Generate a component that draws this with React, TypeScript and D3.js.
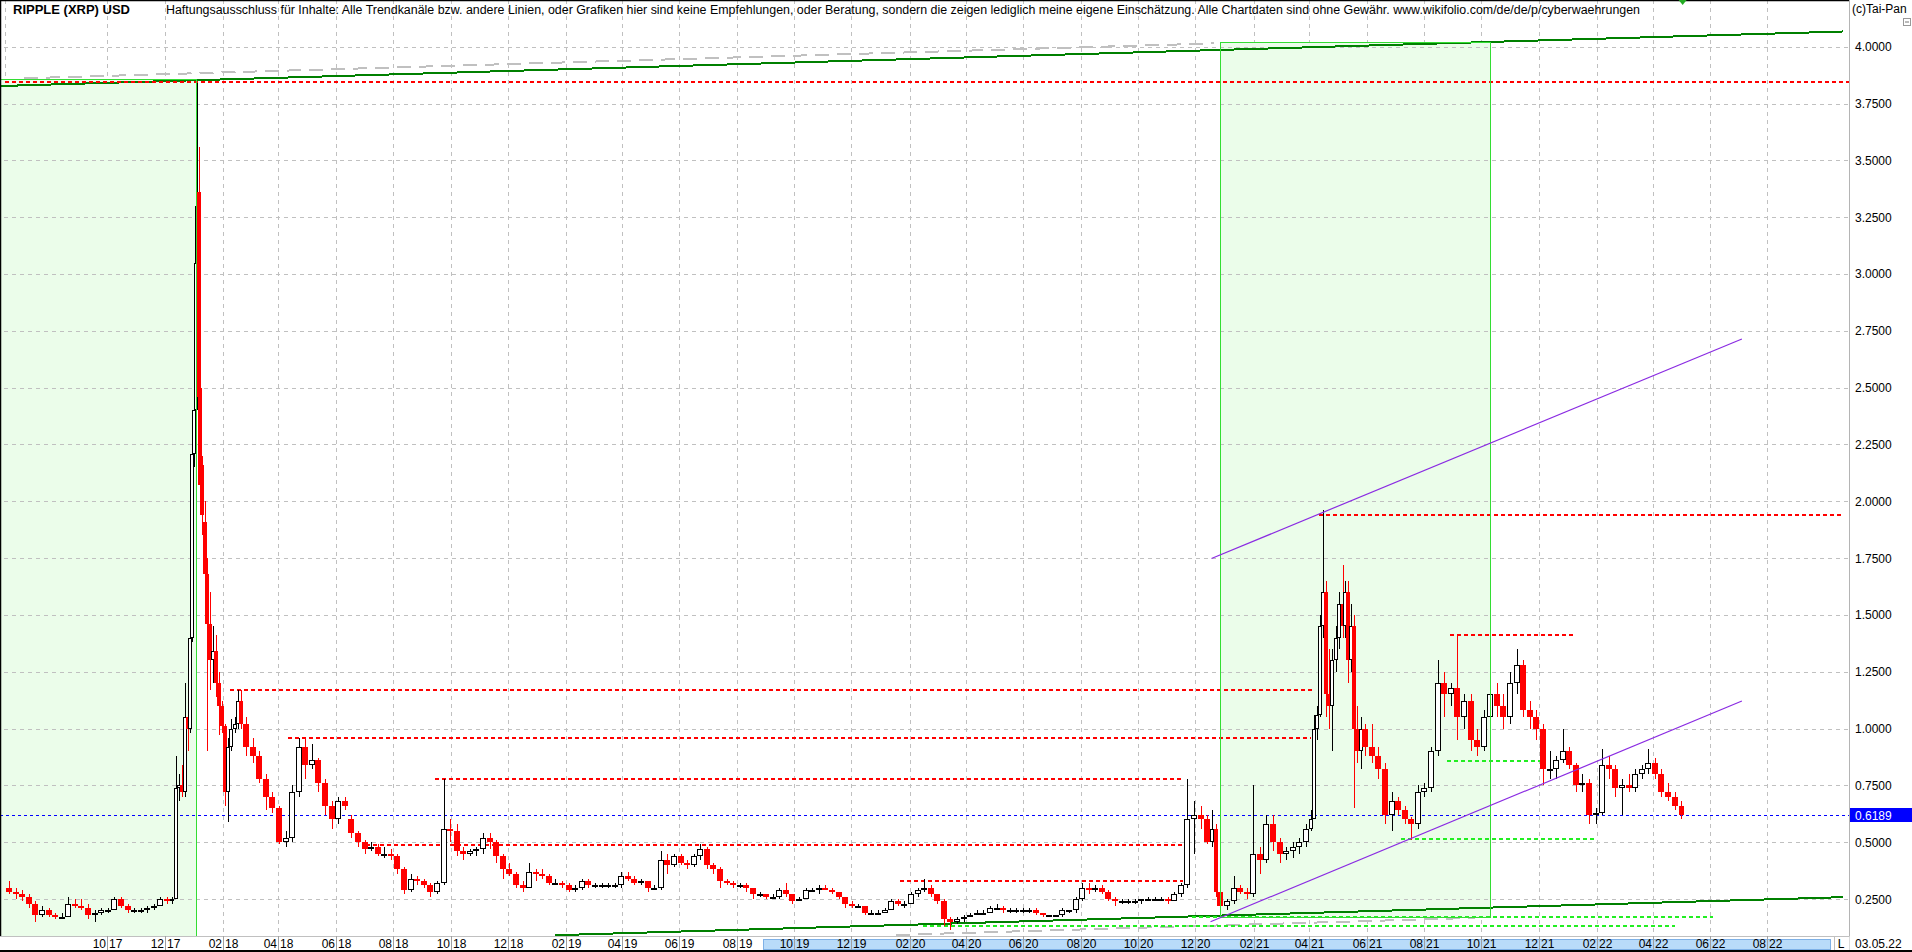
import React from "react";
import * as d3 from "d3";

const W = 1912;
const H = 952;
const AXIS_X = 1849.5;
const PLOT_BOTTOM = 936;
const FONT = "'Liberation Sans', Arial, sans-serif";

const titleText = "RIPPLE (XRP) USD";
const disclaimerText =
  "Haftungsausschluss für Inhalte: Alle Trendkanäle bzw. andere Linien, oder Grafiken hier sind keine Empfehlungen, oder Beratung, sondern die zeigen lediglich meine eigene Einschätzung. Alle Chartdaten sind ohne Gewähr.  www.wikifolio.com/de/de/p/cyberwaehrungen";
const copyrightText = "(c)Tai-Pan";
const lastDateLabel = "03.05.22";
const lastPrice = 0.6189;

const yTickValues = [4.0, 3.75, 3.5, 3.25, 3.0, 2.75, 2.5, 2.25, 2.0, 1.75, 1.5, 1.25, 1.0, 0.75, 0.5, 0.25];

const monthTicks = [
  "10.17", "12.17", "02.18", "04.18", "06.18", "08.18", "10.18", "12.18",
  "02.19", "04.19", "06.19", "08.19", "10.19", "12.19", "02.20", "04.20",
  "06.20", "08.20", "10.20", "12.20", "02.21", "04.21", "06.21", "08.21",
  "10.21", "12.21", "02.22", "04.22", "06.22", "08.22",
];

// [start date, open, high, low, close]
const candles: [string, number, number, number, number][] = [
  ["2017-06-15", 0.30, 0.33, 0.27, 0.28],
  ["2017-06-22", 0.28, 0.30, 0.25, 0.27],
  ["2017-06-29", 0.27, 0.29, 0.24, 0.26],
  ["2017-07-06", 0.26, 0.27, 0.21, 0.23],
  ["2017-07-13", 0.23, 0.24, 0.15, 0.18],
  ["2017-07-20", 0.18, 0.22, 0.17, 0.20],
  ["2017-07-27", 0.20, 0.21, 0.17, 0.18],
  ["2017-08-03", 0.18, 0.19, 0.16, 0.17],
  ["2017-08-10", 0.17, 0.19, 0.16, 0.17],
  ["2017-08-17", 0.17, 0.26, 0.17, 0.23],
  ["2017-08-24", 0.23, 0.25, 0.21, 0.22],
  ["2017-08-31", 0.22, 0.25, 0.20, 0.21],
  ["2017-09-07", 0.21, 0.23, 0.16, 0.18],
  ["2017-09-14", 0.18, 0.20, 0.15, 0.19],
  ["2017-09-21", 0.19, 0.21, 0.18, 0.20],
  ["2017-09-28", 0.20, 0.21, 0.19, 0.20],
  ["2017-10-05", 0.20, 0.26, 0.20, 0.25],
  ["2017-10-12", 0.25, 0.26, 0.21, 0.22],
  ["2017-10-19", 0.22, 0.23, 0.19, 0.20],
  ["2017-10-26", 0.20, 0.21, 0.19, 0.20],
  ["2017-11-02", 0.20, 0.21, 0.19, 0.20],
  ["2017-11-09", 0.20, 0.22, 0.19, 0.21],
  ["2017-11-16", 0.21, 0.23, 0.20, 0.22],
  ["2017-11-23", 0.22, 0.26, 0.22, 0.25],
  ["2017-11-30", 0.25, 0.26, 0.23, 0.24],
  ["2017-12-07", 0.24, 0.26, 0.23, 0.25],
  ["2017-12-11", 0.25, 0.88, 0.25, 0.74],
  ["2017-12-15", 0.74, 0.80, 0.68, 0.75],
  ["2017-12-18", 0.75, 0.84, 0.70, 0.72],
  ["2017-12-21", 0.72, 1.20, 0.70, 1.05],
  ["2017-12-24", 1.05, 1.12, 0.90, 1.00],
  ["2017-12-27", 1.00, 1.50, 0.98, 1.40],
  ["2017-12-29", 1.40, 2.30, 1.38, 2.21],
  ["2017-12-31", 2.21, 2.50, 2.15, 2.40],
  ["2018-01-02", 2.40, 3.11, 2.35, 3.05],
  ["2018-01-04", 3.05, 3.84, 2.95, 3.30],
  ["2018-01-05", 3.36, 3.56, 2.40, 2.46],
  ["2018-01-07", 2.50, 2.85, 2.00, 2.07],
  ["2018-01-09", 2.16, 2.20, 1.85, 1.94],
  ["2018-01-11", 1.91, 2.00, 1.60, 1.68],
  ["2018-01-14", 1.68, 1.75, 0.90, 1.46],
  ["2018-01-17", 1.46, 1.60, 1.17, 1.30],
  ["2018-01-20", 1.30, 1.45, 1.20, 1.34],
  ["2018-01-23", 1.34, 1.41, 1.14, 1.20],
  ["2018-01-26", 1.20, 1.25, 0.97, 1.10],
  ["2018-01-29", 1.10, 1.12, 0.98, 1.01],
  ["2018-02-01", 1.01, 1.02, 0.66, 0.72],
  ["2018-02-05", 0.72, 0.96, 0.59, 0.92],
  ["2018-02-08", 0.92, 1.04, 0.90, 1.00],
  ["2018-02-12", 1.00, 1.05, 0.98, 1.02],
  ["2018-02-15", 1.02, 1.17, 1.00, 1.12],
  ["2018-02-19", 1.12, 1.17, 1.00, 1.02],
  ["2018-02-22", 1.02, 1.05, 0.88, 0.92],
  ["2018-03-01", 0.92, 0.96, 0.85, 0.88],
  ["2018-03-08", 0.88, 0.90, 0.76, 0.78],
  ["2018-03-15", 0.78, 0.80, 0.64, 0.70],
  ["2018-03-22", 0.70, 0.72, 0.63, 0.65],
  ["2018-03-29", 0.65, 0.66, 0.49, 0.50],
  ["2018-04-05", 0.50, 0.55, 0.48, 0.52],
  ["2018-04-12", 0.52, 0.75, 0.50, 0.72],
  ["2018-04-19", 0.72, 0.96, 0.70, 0.92],
  ["2018-04-26", 0.92, 0.96, 0.78, 0.84],
  ["2018-05-03", 0.84, 0.93, 0.82, 0.86],
  ["2018-05-10", 0.86, 0.87, 0.72, 0.76],
  ["2018-05-17", 0.76, 0.78, 0.62, 0.66],
  ["2018-05-24", 0.66, 0.68, 0.56, 0.60],
  ["2018-05-31", 0.60, 0.70, 0.58, 0.68],
  ["2018-06-07", 0.68, 0.70, 0.64, 0.66],
  ["2018-06-14", 0.60, 0.62, 0.52, 0.54],
  ["2018-06-21", 0.54, 0.55, 0.48, 0.50],
  ["2018-06-28", 0.50, 0.51, 0.45, 0.47],
  ["2018-07-05", 0.47, 0.50, 0.46, 0.48],
  ["2018-07-12", 0.48, 0.49, 0.44, 0.45],
  ["2018-07-19", 0.45, 0.48, 0.43, 0.45],
  ["2018-07-26", 0.45, 0.47, 0.42, 0.44],
  ["2018-08-02", 0.44, 0.45, 0.36, 0.38],
  ["2018-08-09", 0.38, 0.39, 0.27, 0.29],
  ["2018-08-16", 0.29, 0.36, 0.28, 0.34],
  ["2018-08-23", 0.34, 0.35, 0.31, 0.33],
  ["2018-08-30", 0.33, 0.34, 0.30, 0.31],
  ["2018-09-06", 0.31, 0.32, 0.26, 0.28],
  ["2018-09-13", 0.28, 0.33, 0.27, 0.32],
  ["2018-09-20", 0.32, 0.78, 0.31, 0.56],
  ["2018-09-27", 0.56, 0.60, 0.50, 0.55],
  ["2018-10-04", 0.55, 0.58, 0.44, 0.46],
  ["2018-10-11", 0.46, 0.48, 0.42, 0.45],
  ["2018-10-18", 0.45, 0.47, 0.44, 0.46],
  ["2018-10-25", 0.46, 0.48, 0.44, 0.47],
  ["2018-11-01", 0.47, 0.54, 0.45, 0.52],
  ["2018-11-08", 0.52, 0.54, 0.47, 0.50],
  ["2018-11-15", 0.50, 0.51, 0.41, 0.44],
  ["2018-11-22", 0.44, 0.45, 0.34, 0.38],
  ["2018-11-29", 0.38, 0.41, 0.35, 0.36],
  ["2018-12-06", 0.36, 0.37, 0.30, 0.31],
  ["2018-12-13", 0.31, 0.33, 0.28, 0.30],
  ["2018-12-20", 0.30, 0.41, 0.30, 0.37],
  ["2018-12-27", 0.37, 0.38, 0.33, 0.36],
  ["2019-01-03", 0.36, 0.38, 0.34, 0.35],
  ["2019-01-10", 0.35, 0.36, 0.31, 0.32],
  ["2019-01-17", 0.32, 0.34, 0.31, 0.32],
  ["2019-01-24", 0.32, 0.33, 0.30, 0.31],
  ["2019-01-31", 0.31, 0.32, 0.28, 0.29],
  ["2019-02-07", 0.29, 0.31, 0.28, 0.30],
  ["2019-02-14", 0.30, 0.34, 0.29, 0.33],
  ["2019-02-21", 0.33, 0.34, 0.30, 0.31],
  ["2019-02-28", 0.31, 0.32, 0.30, 0.31],
  ["2019-03-07", 0.31, 0.32, 0.30, 0.31],
  ["2019-03-14", 0.31, 0.32, 0.30, 0.31],
  ["2019-03-21", 0.31, 0.32, 0.30, 0.31],
  ["2019-03-28", 0.31, 0.37, 0.30, 0.35],
  ["2019-04-04", 0.35, 0.37, 0.33, 0.34],
  ["2019-04-11", 0.34, 0.35, 0.31, 0.32],
  ["2019-04-18", 0.32, 0.34, 0.31, 0.33],
  ["2019-04-25", 0.33, 0.33, 0.28, 0.30],
  ["2019-05-02", 0.30, 0.31, 0.29, 0.30],
  ["2019-05-09", 0.30, 0.46, 0.29, 0.42],
  ["2019-05-16", 0.42, 0.45, 0.36, 0.40],
  ["2019-05-23", 0.40, 0.45, 0.39, 0.44],
  ["2019-05-30", 0.44, 0.45, 0.40, 0.41],
  ["2019-06-06", 0.41, 0.42, 0.38, 0.40],
  ["2019-06-13", 0.40, 0.45, 0.39, 0.44],
  ["2019-06-20", 0.44, 0.49, 0.42, 0.47],
  ["2019-06-27", 0.47, 0.48, 0.38, 0.40],
  ["2019-07-04", 0.40, 0.41, 0.36, 0.38],
  ["2019-07-11", 0.38, 0.39, 0.30, 0.33],
  ["2019-07-18", 0.33, 0.34, 0.31, 0.32],
  ["2019-07-25", 0.32, 0.33, 0.30, 0.31],
  ["2019-08-01", 0.31, 0.32, 0.30, 0.31],
  ["2019-08-08", 0.31, 0.32, 0.28, 0.30],
  ["2019-08-15", 0.30, 0.30, 0.25, 0.27],
  ["2019-08-22", 0.27, 0.28, 0.26, 0.27],
  ["2019-08-29", 0.27, 0.27, 0.25, 0.26],
  ["2019-09-05", 0.26, 0.27, 0.25, 0.26],
  ["2019-09-12", 0.26, 0.30, 0.25, 0.29],
  ["2019-09-19", 0.29, 0.32, 0.26, 0.27],
  ["2019-09-26", 0.27, 0.27, 0.23, 0.24],
  ["2019-10-03", 0.24, 0.26, 0.24, 0.25],
  ["2019-10-10", 0.25, 0.30, 0.25, 0.29],
  ["2019-10-17", 0.29, 0.30, 0.28, 0.29],
  ["2019-10-24", 0.29, 0.31, 0.27, 0.30],
  ["2019-10-31", 0.30, 0.31, 0.29, 0.29],
  ["2019-11-07", 0.29, 0.30, 0.27, 0.28],
  ["2019-11-14", 0.28, 0.28, 0.25, 0.26],
  ["2019-11-21", 0.26, 0.26, 0.21, 0.23],
  ["2019-11-28", 0.23, 0.24, 0.21, 0.22],
  ["2019-12-05", 0.22, 0.23, 0.21, 0.22],
  ["2019-12-12", 0.22, 0.22, 0.18, 0.19],
  ["2019-12-19", 0.19, 0.20, 0.18, 0.19],
  ["2019-12-26", 0.19, 0.20, 0.19, 0.19],
  ["2020-01-02", 0.19, 0.21, 0.19, 0.20],
  ["2020-01-09", 0.20, 0.25, 0.20, 0.24],
  ["2020-01-16", 0.24, 0.25, 0.22, 0.23],
  ["2020-01-23", 0.23, 0.24, 0.21, 0.23],
  ["2020-01-30", 0.23, 0.28, 0.23, 0.27],
  ["2020-02-06", 0.27, 0.30, 0.26, 0.29],
  ["2020-02-13", 0.29, 0.34, 0.28, 0.30],
  ["2020-02-20", 0.30, 0.31, 0.26, 0.27],
  ["2020-02-27", 0.27, 0.27, 0.23, 0.24],
  ["2020-03-05", 0.24, 0.25, 0.13, 0.16],
  ["2020-03-12", 0.16, 0.17, 0.115, 0.15],
  ["2020-03-19", 0.15, 0.17, 0.14, 0.16],
  ["2020-03-26", 0.16, 0.18, 0.15, 0.17],
  ["2020-04-02", 0.17, 0.19, 0.17, 0.18],
  ["2020-04-09", 0.18, 0.20, 0.18, 0.19],
  ["2020-04-16", 0.19, 0.20, 0.18, 0.19],
  ["2020-04-23", 0.19, 0.22, 0.19, 0.21],
  ["2020-04-30", 0.21, 0.23, 0.20, 0.21],
  ["2020-05-07", 0.21, 0.22, 0.19, 0.20],
  ["2020-05-14", 0.20, 0.21, 0.19, 0.20],
  ["2020-05-21", 0.20, 0.21, 0.19, 0.20],
  ["2020-05-28", 0.20, 0.21, 0.19, 0.20],
  ["2020-06-04", 0.20, 0.21, 0.19, 0.20],
  ["2020-06-11", 0.20, 0.21, 0.18, 0.19],
  ["2020-06-18", 0.19, 0.19, 0.17, 0.18],
  ["2020-06-25", 0.18, 0.18, 0.17, 0.18],
  ["2020-07-02", 0.18, 0.18, 0.17, 0.18],
  ["2020-07-09", 0.18, 0.21, 0.17, 0.20],
  ["2020-07-16", 0.20, 0.20, 0.19, 0.20],
  ["2020-07-23", 0.20, 0.26, 0.19, 0.25],
  ["2020-07-30", 0.25, 0.32, 0.24, 0.30],
  ["2020-08-06", 0.30, 0.32, 0.27, 0.29],
  ["2020-08-13", 0.29, 0.31, 0.28, 0.30],
  ["2020-08-20", 0.30, 0.31, 0.27, 0.28],
  ["2020-08-27", 0.28, 0.29, 0.24, 0.25],
  ["2020-09-03", 0.25, 0.26, 0.22, 0.24],
  ["2020-09-10", 0.24, 0.25, 0.23, 0.24],
  ["2020-09-17", 0.24, 0.25, 0.23, 0.24],
  ["2020-09-24", 0.24, 0.25, 0.23, 0.24],
  ["2020-10-01", 0.24, 0.25, 0.23, 0.25],
  ["2020-10-08", 0.25, 0.26, 0.24, 0.25],
  ["2020-10-15", 0.25, 0.26, 0.24, 0.25],
  ["2020-10-22", 0.25, 0.26, 0.24, 0.25],
  ["2020-10-29", 0.25, 0.26, 0.23, 0.24],
  ["2020-11-05", 0.24, 0.28, 0.24, 0.27],
  ["2020-11-12", 0.27, 0.32, 0.26, 0.31],
  ["2020-11-19", 0.31, 0.78, 0.30, 0.60],
  ["2020-11-26", 0.60, 0.68, 0.45, 0.62],
  ["2020-12-03", 0.62, 0.66, 0.56, 0.60],
  ["2020-12-10", 0.60, 0.62, 0.49, 0.50],
  ["2020-12-17", 0.50, 0.64, 0.48, 0.56],
  ["2020-12-21", 0.56, 0.58, 0.26, 0.28],
  ["2020-12-24", 0.28, 0.30, 0.17, 0.22],
  ["2020-12-31", 0.22, 0.25, 0.20, 0.24],
  ["2021-01-07", 0.24, 0.35, 0.23, 0.30],
  ["2021-01-14", 0.30, 0.31, 0.27, 0.28],
  ["2021-01-21", 0.28, 0.30, 0.25, 0.27],
  ["2021-01-28", 0.27, 0.75, 0.26, 0.45],
  ["2021-02-04", 0.45, 0.48, 0.36, 0.42],
  ["2021-02-11", 0.42, 0.62, 0.41, 0.58],
  ["2021-02-18", 0.58, 0.62, 0.46, 0.50],
  ["2021-02-25", 0.50, 0.52, 0.41, 0.45],
  ["2021-03-04", 0.45, 0.48, 0.42, 0.46],
  ["2021-03-11", 0.46, 0.50, 0.43, 0.48],
  ["2021-03-18", 0.48, 0.52, 0.45, 0.50],
  ["2021-03-25", 0.50, 0.58, 0.48, 0.56],
  ["2021-04-01", 0.56, 0.64, 0.55, 0.60],
  ["2021-04-05", 0.60, 1.06, 0.60, 1.00],
  ["2021-04-08", 1.00, 1.10, 0.95, 1.06],
  ["2021-04-11", 1.06, 1.50, 1.05, 1.45],
  ["2021-04-14", 1.45, 1.96, 1.40, 1.60],
  ["2021-04-17", 1.60, 1.65, 1.05, 1.15],
  ["2021-04-21", 1.15, 1.35, 1.00, 1.10],
  ["2021-04-24", 1.10, 1.35, 0.90, 1.30],
  ["2021-04-27", 1.30, 1.45, 1.25, 1.40],
  ["2021-05-01", 1.40, 1.60, 1.35, 1.55],
  ["2021-05-05", 1.55, 1.72, 1.40, 1.45],
  ["2021-05-08", 1.45, 1.65, 1.40, 1.60],
  ["2021-05-11", 1.60, 1.65, 1.20, 1.30],
  ["2021-05-14", 1.30, 1.55, 1.25, 1.45],
  ["2021-05-17", 1.45, 1.50, 0.65, 1.00],
  ["2021-05-20", 1.00, 1.10, 0.85, 0.90],
  ["2021-05-24", 0.90, 1.05, 0.82, 1.00],
  ["2021-05-27", 1.00, 1.02, 0.88, 0.92],
  ["2021-06-03", 0.92, 1.02, 0.85, 0.88],
  ["2021-06-10", 0.88, 0.92, 0.78, 0.82],
  ["2021-06-17", 0.82, 0.85, 0.58, 0.62],
  ["2021-06-24", 0.62, 0.72, 0.55, 0.68],
  ["2021-07-01", 0.68, 0.70, 0.62, 0.64],
  ["2021-07-08", 0.64, 0.66, 0.58, 0.60],
  ["2021-07-15", 0.60, 0.61, 0.51, 0.58],
  ["2021-07-22", 0.58, 0.75, 0.56, 0.72],
  ["2021-07-29", 0.72, 0.76, 0.70, 0.74],
  ["2021-08-05", 0.74, 0.92, 0.72, 0.90],
  ["2021-08-12", 0.90, 1.30, 0.88, 1.20],
  ["2021-08-19", 1.20, 1.25, 1.05, 1.15],
  ["2021-08-26", 1.15, 1.20, 1.10, 1.18],
  ["2021-09-02", 1.18, 1.41, 0.95, 1.05],
  ["2021-09-09", 1.05, 1.15, 1.00, 1.12],
  ["2021-09-16", 1.12, 1.15, 0.90, 0.95],
  ["2021-09-23", 0.95, 1.00, 0.88, 0.92],
  ["2021-09-30", 0.92, 1.08, 0.90, 1.05],
  ["2021-10-07", 1.05, 1.20, 1.02, 1.15],
  ["2021-10-14", 1.15, 1.20, 1.05, 1.10],
  ["2021-10-21", 1.10, 1.15, 1.00, 1.05],
  ["2021-10-28", 1.05, 1.25, 1.02, 1.20],
  ["2021-11-04", 1.20, 1.35, 1.15, 1.28],
  ["2021-11-11", 1.28, 1.30, 1.05, 1.08],
  ["2021-11-18", 1.08, 1.12, 1.00, 1.05],
  ["2021-11-25", 1.05, 1.08, 0.95, 1.00],
  ["2021-12-02", 1.00, 1.02, 0.75, 0.82],
  ["2021-12-09", 0.82, 0.90, 0.78, 0.82],
  ["2021-12-16", 0.82, 0.88, 0.78, 0.86],
  ["2021-12-23", 0.86, 1.00, 0.85, 0.90],
  ["2021-12-30", 0.90, 0.92, 0.82, 0.84],
  ["2022-01-06", 0.84, 0.85, 0.72, 0.75],
  ["2022-01-13", 0.75, 0.80, 0.72, 0.76],
  ["2022-01-20", 0.76, 0.78, 0.58, 0.62],
  ["2022-01-27", 0.62, 0.65, 0.58, 0.63],
  ["2022-02-03", 0.63, 0.91, 0.62, 0.84],
  ["2022-02-10", 0.84, 0.88, 0.78, 0.82],
  ["2022-02-17", 0.82, 0.84, 0.70, 0.74],
  ["2022-02-24", 0.74, 0.78, 0.62, 0.75],
  ["2022-03-03", 0.75, 0.80, 0.72, 0.74],
  ["2022-03-10", 0.74, 0.82, 0.72, 0.80],
  ["2022-03-17", 0.80, 0.84, 0.78, 0.82],
  ["2022-03-24", 0.82, 0.91, 0.80, 0.85],
  ["2022-03-31", 0.85, 0.87, 0.78, 0.80],
  ["2022-04-07", 0.80, 0.82, 0.70, 0.72],
  ["2022-04-14", 0.72, 0.76, 0.68, 0.70],
  ["2022-04-21", 0.70, 0.72, 0.64, 0.66],
  ["2022-04-28", 0.66, 0.68, 0.60, 0.6189],
];
const lastCandleEnd = "2022-05-04";

// horizontal levels: [value, from date, to date]
const redLevels: [number, string, string][] = [
  [3.843, "2017-06-14", "2022-10-28"],
  [1.168, "2018-02-08", "2021-04-06"],
  [0.96, "2018-04-11", "2021-04-03"],
  [0.778, "2018-09-14", "2020-11-18"],
  [0.487, "2018-07-03", "2020-11-24"],
  [0.33, "2020-01-22", "2020-11-18"],
  [1.94, "2021-04-11", "2022-10-21"],
  [1.41, "2021-08-29", "2022-01-09"],
];
const greenLevels: [number, string, string][] = [
  [0.858, "2021-08-25", "2021-12-02"],
  [0.514, "2021-07-08", "2022-02-01"],
  [0.173, "2020-11-27", "2022-06-04"],
  [0.132, "2020-02-15", "2022-04-25"],
];

// trend lines: [date, value] pairs
const upperGreenLine: [string, number][] = [["2017-06-09", 3.827], ["2022-10-21", 4.067]];
const lowerGreenLine: [string, number][] = [["2019-01-20", 0.0906], ["2022-10-20", 0.258]];
const upperGrayLine: [string, number][] = [["2017-07-04", 3.861], ["2020-12-21", 4.0145]];
const lowerGrayLine: [string, number][] = [["2020-01-18", 0.092], ["2021-09-24", 0.167]];
const purpleUpper: [string, number][] = [["2020-12-18", 1.748], ["2022-07-05", 2.714]];
const purpleLower: [string, number][] = [["2020-12-17", 0.15], ["2022-07-05", 1.121]];

// highlighted zones: [from, to, top value, bottom value | null]
const zones: [string, string, number, number | null][] = [
  ["2017-06-09", "2018-01-03", 3.857, null],
  ["2020-12-27", "2021-10-10", 4.02, 0.173],
];

const scrollBand: [string, string] = ["2019-08-29", "2022-10-06"];

const parse = (s: string) => new Date(s + "T00:00:00Z");

export default function App() {
  const x = d3.scaleUtc().domain([parse("2017-10-01"), parse("2022-08-01")]).range([107.3, 1767.3]);
  const y = d3.scaleLinear().domain([0.25, 4]).range([899, 46.7]);

  const gridXs = monthTicks.map((m) => {
    const [mm, yy] = m.split(".");
    return { mm, yy, px: Math.round(x(parse(`20${yy}-${mm}-01`))) + 0.5 };
  });

  const candleShapes = candles.map(([ds, o, h, l, c], i) => {
    const t0 = parse(ds);
    let t1 = i < candles.length - 1 ? parse(candles[i + 1][0]) : parse(lastCandleEnd);
    if (+t1 - +t0 > 8 * 864e5) t1 = d3.utcDay.offset(t0, 7);
    const x0 = x(t0);
    const x1 = x(t1);
    const w = Math.max(4, Math.round((x1 - x0) * 0.86));
    const cx = Math.round((x0 + x1) / 2);
    const up = c >= o;
    const top = Math.round(y(Math.max(o, c)));
    const bot = Math.round(y(Math.min(o, c)));
    const left = cx - Math.floor(w / 2);
    const bh = Math.max(2, bot - top);
    return (
      <g key={i}>
        <line x1={cx + 0.5} x2={cx + 0.5} y1={Math.round(y(h))} y2={Math.round(y(l))} stroke={up ? "#000" : "#ff0000"} strokeWidth={1} />
        {up ? (
          <rect x={left + 0.5} y={top + 0.5} width={Math.max(0, w - 1)} height={Math.max(0, bh - 1)} fill="#fff" stroke="#000" strokeWidth={1} />
        ) : (
          <rect x={left} y={top} width={w} height={bh} fill="#ff0000" />
        )}
      </g>
    );
  });

  const lineOf = (pts: [string, number][]) => ({
    x1: x(parse(pts[0][0])), y1: y(pts[0][1]), x2: x(parse(pts[1][0])), y2: y(pts[1][1]),
  });

  const xEnd = (s: string) => Math.min(AXIS_X, x(parse(s)));

  const lastX = x(parse("2022-05-03"));

  return (
    <svg width={W} height={H} style={{ position: "absolute", left: 0, top: 0, display: "block", background: "#fff" }} fontFamily={FONT}>
      <rect x={0} y={0} width={W} height={H} fill="#fff" />
      {/* vertical grid */}
      <line x1={5.5} x2={5.5} y1={0} y2={PLOT_BOTTOM} stroke="#c0c0c0" strokeDasharray="4,4" shapeRendering="crispEdges" />
      {gridXs.map((g, i) => (
        <line key={i} x1={g.px} x2={g.px} y1={0} y2={PLOT_BOTTOM} stroke="#c0c0c0" strokeDasharray="4,4" shapeRendering="crispEdges" />
      ))}
      {/* zone fills */}
      {zones.map(([a, b, top, bot], i) => {
        const xa = Math.round(x(parse(a)));
        const xb = Math.round(x(parse(b)));
        const yt = Math.round(y(top));
        const yb = bot === null ? PLOT_BOTTOM : Math.round(y(bot));
        return <rect key={i} x={xa} y={yt} width={xb - xa} height={yb - yt} fill="#ebfdea" />;
      })}
      {/* horizontal grid */}
      {yTickValues.map((v, i) => {
        const yy = Math.round(y(v)) + 0.5;
        return <line key={i} x1={4} x2={AXIS_X} y1={yy} y2={yy} stroke="#c0c0c0" strokeDasharray="4,4" shapeRendering="crispEdges" />;
      })}
      {/* gray dashed trend lines */}
      <line {...lineOf(upperGrayLine)} stroke="#c0c0c0" strokeWidth={2} strokeDasharray="14,8" shapeRendering="crispEdges" />
      <line {...lineOf(lowerGrayLine)} stroke="#c0c0c0" strokeWidth={2} strokeDasharray="14,8" shapeRendering="crispEdges" />
      {/* dark green trend lines */}
      <line {...lineOf(upperGreenLine)} stroke="#008000" strokeWidth={2} shapeRendering="crispEdges" />
      <line {...lineOf(lowerGreenLine)} stroke="#008000" strokeWidth={2} shapeRendering="crispEdges" />
      {/* red levels */}
      {redLevels.map(([v, a, b], i) => {
        const yy = Math.round(y(v));
        return <line key={i} x1={x(parse(a))} x2={xEnd(b)} y1={yy} y2={yy} stroke="#ff0000" strokeWidth={2} strokeDasharray="4,3" shapeRendering="crispEdges" />;
      })}
      {greenLevels.map(([v, a, b], i) => {
        const yy = Math.round(y(v));
        return <line key={i} x1={x(parse(a))} x2={xEnd(b)} y1={yy} y2={yy} stroke="#22ee22" strokeWidth={2} strokeDasharray="4,3" shapeRendering="crispEdges" />;
      })}
      {/* last price line */}
      <line x1={0} x2={AXIS_X} y1={Math.round(y(lastPrice)) + 0.5} y2={Math.round(y(lastPrice)) + 0.5} stroke="#0000ff" strokeDasharray="3,3" shapeRendering="crispEdges" />
      {/* candles */}
      <g shapeRendering="crispEdges">{candleShapes}</g>
      {/* zone borders */}
      {zones.map(([a, b, top, bot], i) => {
        const xa = Math.round(x(parse(a))) + 0.5;
        const xb = Math.round(x(parse(b))) + 0.5;
        const yt = Math.round(y(top)) + 0.5;
        const yb = bot === null ? PLOT_BOTTOM + 5 : Math.round(y(bot)) + 0.5;
        return <polyline key={i} points={`${xa},${yb} ${xa},${yt} ${xb},${yt} ${xb},${yb} ${bot === null ? "" : `${xa},${yb}`}`} fill="none" stroke="#33dd33" strokeWidth={1.5} shapeRendering="crispEdges" />;
      })}
      {/* purple channel */}
      <line {...lineOf(purpleUpper)} stroke="#8a2be2" strokeWidth={1.2} />
      <line {...lineOf(purpleLower)} stroke="#8a2be2" strokeWidth={1.2} />
      {/* frame */}
      <line x1={0} x2={AXIS_X} y1={0.5} y2={0.5} stroke="#000" strokeWidth={1.5} />
      <line x1={0.5} x2={0.5} y1={0} y2={H} stroke="#000" strokeWidth={1.5} />
      {/* right axis area */}
      <rect x={AXIS_X} y={0} width={W - AXIS_X} height={H} fill="#fff" />
      <line x1={AXIS_X} x2={AXIS_X} y1={0} y2={H} stroke="#b4b4b4" strokeWidth={1} />
      {yTickValues.map((v, i) => (
        <text key={i} x={1855} y={y(v) + 4.5} fontSize={12} fill="#000">{v.toFixed(4)}</text>
      ))}
      <rect x={AXIS_X + 0.5} y={Math.round(y(lastPrice)) - 7} width={W - AXIS_X} height={14} fill="#0000ff" />
      <text x={1855} y={Math.round(y(lastPrice)) + 4.5} fontSize={12} fill="#fff">{lastPrice.toFixed(4)}</text>
      <text x={1852} y={13} fontSize={12} fill="#000">{copyrightText}</text>
      <rect x={1903.5} y={18.5} width={7} height={7} fill="#fff" stroke="#999" />
      <line x1={1905} x2={1909} y1={22} y2={22} stroke="#777" />
      {/* titles */}
      <text x={13} y={14} fontSize={13} fontWeight="bold" fill="#000">{titleText}</text>
      <text x={166} y={14} fontSize={12.5} fill="#000" textLength={1474} lengthAdjust="spacingAndGlyphs">{disclaimerText}</text>
      {/* last candle marker */}
      <polygon points={`${lastX - 4},0 ${lastX + 4},0 ${lastX},5`} fill="#22aa22" />
      {/* bottom axis row */}
      <rect x={0} y={PLOT_BOTTOM} width={AXIS_X} height={H - PLOT_BOTTOM} fill="#fff" />
      <line x1={0} x2={AXIS_X} y1={PLOT_BOTTOM + 0.5} y2={PLOT_BOTTOM + 0.5} stroke="#c0c0c0" />
      <rect x={Math.round(x(parse(scrollBand[0]))) + 0.5} y={939.5} width={Math.round(x(parse(scrollBand[1])) - x(parse(scrollBand[0])))} height={10} fill="#b9dbf9" stroke="#7fb1e6" />
      {gridXs.map((g, i) => (
        <g key={i}>
          <line x1={g.px} x2={g.px} y1={PLOT_BOTTOM} y2={950} stroke="#a0a0a0" />
          <text x={g.px - 1.5} y={948} fontSize={12} textAnchor="end" fill="#000">{g.mm}</text>
          <text x={g.px + 1.5} y={948} fontSize={12} textAnchor="start" fill="#000">{g.yy}</text>
        </g>
      ))}
      <text x={1841} y={948} fontSize={12} textAnchor="middle" fill="#000">L</text>
      <line x1={1834.5} x2={1834.5} y1={PLOT_BOTTOM} y2={950} stroke="#c0c0c0" />
      <text x={1855} y={948} fontSize={12} fill="#000">{lastDateLabel}</text>
      <line x1={0} x2={W} y1={951} y2={951} stroke="#000" strokeWidth={2} />
    </svg>
  );
}
